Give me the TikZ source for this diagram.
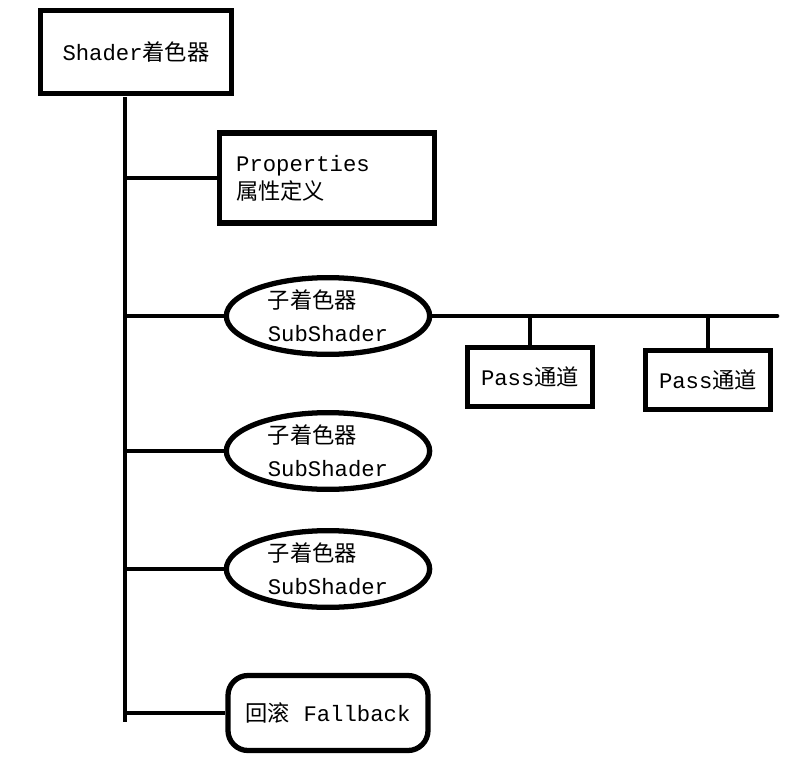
\documentclass[tikz,border=0pt]{standalone}
\usepackage{fontspec}
\setmainfont{Liberation Mono}
\newfontfamily\cjk{Noto Sans CJK SC}
\usetikzlibrary{shapes.geometric}
\tikzset{
  base/.style={draw,line width=4.5pt,fill=white,font=\fontsize{19}{28}\selectfont},
  box/.style={base,rectangle},
  oval/.style={base,ellipse,minimum width=6.1cm,minimum height=2.3cm,inner sep=1pt,align=left},
  rbox/.style={base,rectangle,rounded corners=0.6cm,minimum width=6cm,minimum height=2.25cm},
  branch/.style={line width=4pt}
}
\begin{document}
\begin{tikzpicture}[x=0.03cm,y=-0.03cm]
\useasboundingbox (0,0) rectangle (807,781);
% Shader
\node[box,minimum width=5.75cm,minimum height=2.5cm] (shader) at (136,52) {Shader{\cjk 着色器}};
\coordinate (top) at (125,97);
\coordinate (bot) at (125,722);
\draw[branch] (top) -- (bot);

% Properties
\node[box,text width=5.45cm,inner xsep=0.5cm,minimum height=2.7cm,align=left] (props) at (327,178) {Properties\\[-4pt]{\cjk 属性定义}};
\draw[branch] (props.west -| top) -- (props.west);

% SubShaders
\node[oval] (sub1) at (328,316) {{\cjk 子着色器}\\SubShader};
\node[oval] (sub2) at (328,451) {{\cjk 子着色器}\\SubShader};
\node[oval] (sub3) at (328,569) {{\cjk 子着色器}\\SubShader};
\foreach \s in {sub1,sub2,sub3} {
  \draw[branch] (\s.west -| top) -- (\s.west);
}

% Passes
\coordinate (rail) at (777,316);
\draw[branch,line cap=round] (sub1.east) -- (rail);
\node[box,minimum width=3.75cm,minimum height=1.75cm] (pass1) at (530,377) {Pass{\cjk 通道}};
\node[box,minimum width=3.75cm,minimum height=1.75cm] (pass2) at (708,380) {Pass{\cjk 通道}};
\draw[branch] (pass1.north) -- (pass1.north |- rail);
\draw[branch] (pass2.north) -- (pass2.north |- rail);

% Fallback
\node[rbox] (fall) at (328,713) {{\cjk 回滚} Fallback};
\draw[branch] (fall.west -| top) -- (fall.west);
\end{tikzpicture}
\end{document}
